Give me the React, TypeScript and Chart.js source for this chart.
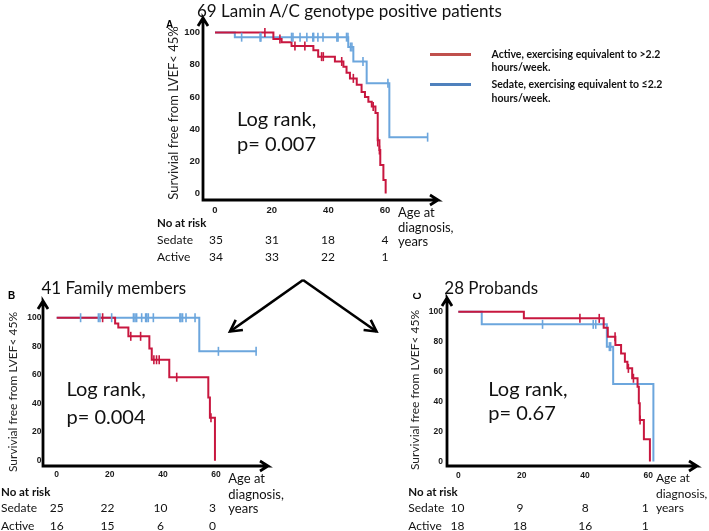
import React, { useEffect, useRef } from 'react';
import { Chart, registerables } from 'chart.js';
Chart.register(...registerables);

// ---------- shared ticks ----------
const xTickValues = [0, 20, 40, 60];
const yTickValues = [0, 20, 40, 60, 80, 100];

// ---------- Panel A: 69 Lamin A/C genotype positive patients ----------
const aActiveTime = [0, 20.6, 23.5, 27, 34.7, 36.4, 42.3, 45.3, 46.4, 47.6, 50, 51.7, 52.9, 54.1, 55.3, 56.6, 57.4, 58.0, 58.3, 59.4, 60.2];
const aActiveSurv = [100, 96, 94, 91.6, 89, 85, 82, 78.7, 75, 71.5, 67.5, 63, 60, 57, 54, 50, 33, 27, 17.7, 8.4, 0];
const aActiveCensT = [17.6, 22.9, 28.2, 31.7, 37.6, 38.2, 44.7, 48.8, 55.8, 57.4, 58.0];
const aActiveCensS = [100, 96, 91.6, 91.6, 85, 85, 82, 71.5, 54, 32, 27];
const aSedateTime = [0, 7, 47, 48.8, 53.5, 61.5, 75];
const aSedateSurv = [100, 97.1, 91, 82, 68.4, 35, 35];
const aSedateCensT = [9.4, 15.9, 16.2, 27, 27.5, 30, 32.4, 34.5, 34.8, 36.3, 38.1, 43, 43.4, 46.4, 46.9, 47.8, 48.3, 52.2, 61, 75];
const aSedateCensS = [97.1, 97.1, 97.1, 97.1, 97.1, 97.1, 97.1, 97.1, 97.1, 97.1, 97.1, 97.1, 97.1, 97.1, 97.1, 91, 91, 82, 68.4, 35];
const aRiskSedate = ['35', '31', '18', '4'];
const aRiskActive = ['34', '33', '22', '1'];

// ---------- Panel B: 41 Family members ----------
const bActiveTime = [0, 22, 23.2, 27, 34.9, 35.8, 42.4, 57.1, 57.7, 59.6];
const bActiveSurv = [100, 96, 93.2, 87, 78.4, 70.6, 58.4, 44.2, 30.1, 0];
const bActiveCensT = [17.3, 27.9, 31.6, 36.6, 37.6, 38.6, 45.2, 58.1];
const bActiveCensS = [100, 87, 87, 70.6, 70.6, 70.6, 58.4, 30.1];
const bSedateTime = [0, 53.7, 75.3];
const bSedateSurv = [100, 76.5, 76.5];
const bSedateCensT = [9.0, 15.7, 16.3, 20.7, 28.9, 29.5, 30.1, 32, 33.5, 33.9, 34.5, 36.4, 46.4, 46.8, 47.4, 48.7, 52.1, 60.9, 75.1];
const bSedateCensS = [100, 100, 100, 100, 100, 100, 100, 100, 100, 100, 100, 100, 100, 100, 100, 100, 100, 76.5, 76.5];
const bRiskSedate = ['25', '22', '10', '3'];
const bRiskActive = ['16', '15', '6', '0'];

// ---------- Panel C: 28 Probands ----------
const cActiveTime = [0, 20.7, 45.9, 47.2, 49.6, 51.4, 52.6, 53.4, 54.9, 56.6, 57.0, 57.3, 58.6, 60.5];
const cActiveSurv = [100, 95.6, 89.4, 83.3, 77.8, 72.2, 66.7, 62.2, 55.6, 50, 38.9, 27.8, 14.9, 0];
const cActiveCensT = [38.4, 44.5, 49.5, 53.7, 55.3, 57.4];
const cActiveCensS = [95.6, 95.6, 83.3, 62.2, 55.6, 27.8];
const cSedateTime = [0, 7.4, 46.9, 48.9, 61.6];
const cSedateSurv = [100, 91.6, 76.7, 51.7, 0];
const cSedateCensT = [26.6, 42.6, 43.4, 47.7, 48.1];
const cSedateCensS = [91.6, 91.6, 91.6, 76.7, 76.7];
const cRiskSedate = ['10', '9', '8', '1'];
const cRiskActive = ['18', '18', '16', '1'];

const RED = '#C8173F';
const BLUE = '#6CA6DD';
const LEGEND_RED = '#C0504D';
const LEGEND_BLUE = '#4F81BD';

const YW = 40, PT = 10, PR = 10, XH = 22;

type Pt = { x: number; y: number };
const toPts = (t: number[], s: number[]): Pt[] => t.map((x, i) => ({ x, y: s[i] }));

interface PanelCfg {
  area: { left: number; top: number; right: number; bottom: number };
  xr: [number, number];
  yr: [number, number];
  tickSize: number;
  yPad: number;
  xPad: number;
  active: { t: number[]; s: number[]; ct: number[]; cs: number[] };
  sedate: { t: number[]; s: number[]; ct: number[]; cs: number[] };
}

const PANELS: PanelCfg[] = [
  {
    area: { left: 203, top: 18, right: 438, bottom: 200 },
    xr: [-4.23, 78.66], yr: [-4.04, 109.0], tickSize: 9.5, yPad: 3, xPad: 5,
    active: { t: aActiveTime, s: aActiveSurv, ct: aActiveCensT, cs: aActiveCensS },
    sedate: { t: aSedateTime, s: aSedateSurv, ct: aSedateCensT, cs: aSedateCensS },
  },
  {
    area: { left: 43, top: 301, right: 268, bottom: 466 },
    xr: [-5.16, 79.58], yr: [-3.7, 111.7], tickSize: 8.5, yPad: 1.5, xPad: 3.5,
    active: { t: bActiveTime, s: bActiveSurv, ct: bActiveCensT, cs: bActiveCensS },
    sedate: { t: bSedateTime, s: bSedateSurv, ct: bSedateCensT, cs: bSedateCensS },
  },
  {
    area: { left: 447, top: 298, right: 697, bottom: 466 },
    xr: [-3.57, 75.37], yr: [-3.0, 109.2], tickSize: 8.5, yPad: 4, xPad: 4.5,
    active: { t: cActiveTime, s: cActiveSurv, ct: cActiveCensT, cs: cActiveCensS },
    sedate: { t: cSedateTime, s: cSedateSurv, ct: cSedateCensT, cs: cSedateCensS },
  },
];

// axis path (with chevron arrowheads), expressed in data units of the panel's scales
function axisPath(cfg: PanelCfg): Pt[] {
  const [x0, x1] = cfg.xr;
  const [y0, y1] = cfg.yr;
  const { left, right, top, bottom } = cfg.area;
  const dx = (x1 - x0) / (right - left);
  const dy = (y1 - y0) / (bottom - top);
  const hw = 5, hl = 8;
  return [
    { x: x0 - hw * dx, y: y1 - hl * dy },
    { x: x0, y: y1 },
    { x: x0 + hw * dx, y: y1 - hl * dy },
    { x: x0, y: y1 },
    { x: x0, y: y0 },
    { x: x1, y: y0 },
    { x: x1 - hl * dx, y: y0 + hw * dy },
    { x: x1, y: y0 },
    { x: x1 - hl * dx, y: y0 - hw * dy },
  ];
}

function KMPanel({ cfg }: { cfg: PanelCfg }) {
  const ref = useRef<HTMLCanvasElement>(null);
  const { area } = cfg;
  const w = Math.round(YW + (area.right - area.left) + PR);
  const h = Math.round(PT + (area.bottom - area.top) + XH);
  useEffect(() => {
    if (!ref.current) return;
    const tickFont = { family: '"Liberation Sans", Arial, sans-serif', size: cfg.tickSize, weight: 'bold' as const };
    const censor = (color: string) => ({
      showLine: false,
      pointStyle: 'line' as const,
      pointRotation: 90,
      pointRadius: 4.5,
      pointBorderWidth: 1.6,
      pointBorderColor: color,
      pointBackgroundColor: color,
      borderColor: color,
    });
    const [x0, x1] = cfg.xr;
    const [y0, y1] = cfg.yr;
    const chart = new Chart(ref.current, {
      type: 'line',
      data: {
        datasets: [
          {
            data: axisPath(cfg),
            borderColor: '#000', borderWidth: 2.8, pointRadius: 0, clip: false, order: 5,
            borderJoinStyle: 'miter', borderCapStyle: 'butt', tension: 0,
          } as any,
          { data: toPts(cfg.active.ct, cfg.active.cs), ...censor(RED), order: 0 } as any,
          { data: toPts(cfg.sedate.ct, cfg.sedate.cs), ...censor(BLUE), order: 1 } as any,
          { data: toPts(cfg.active.t, cfg.active.s), borderColor: RED, borderWidth: 2, stepped: 'before', pointRadius: 0, order: 2 },
          { data: toPts(cfg.sedate.t, cfg.sedate.s), borderColor: BLUE, borderWidth: 2, stepped: 'before', pointRadius: 0, order: 3 },
        ],
      },
      options: {
        animation: false,
        responsive: false,
        maintainAspectRatio: false,
        layout: { padding: { top: PT, right: PR, left: 0, bottom: 0 } },
        plugins: { legend: { display: false }, tooltip: { enabled: false } },
        scales: {
          x: {
            type: 'linear', min: x0, max: x1,
            grid: { display: false, drawTicks: false },
            border: { display: false },
            afterBuildTicks: (s: any) => { s.ticks = xTickValues.map((v) => ({ value: v })); },
            afterFit: (s: any) => { s.height = XH; },
            ticks: { font: tickFont, color: '#1a1a1a', padding: cfg.xPad, maxRotation: 0, autoSkip: false, callback: (v: any) => String(v) },
          },
          y: {
            type: 'linear', min: y0, max: y1,
            grid: { display: false, drawTicks: false },
            border: { display: false },
            afterBuildTicks: (s: any) => { s.ticks = yTickValues.map((v) => ({ value: v })); },
            afterFit: (s: any) => { s.width = YW; },
            ticks: { font: tickFont, color: '#1a1a1a', padding: cfg.yPad, autoSkip: false, callback: (v: any) => String(v) },
          },
        },
      },
    });
    return () => chart.destroy();
  }, [cfg]);
  return (
    <canvas
      ref={ref}
      width={w}
      height={h}
      style={{ position: 'absolute', left: area.left - YW, top: area.top - PT, width: w, height: h }}
    />
  );
}

const FONT = 'Lato, "Open Sans", sans-serif';

function T({ x, y, size, bold, center, children, color }: any) {
  return (
    <div
      style={{
        position: 'absolute', left: x, top: y, fontFamily: FONT, fontSize: size, fontWeight: bold ? 700 : 400,
        lineHeight: 1, whiteSpace: 'nowrap', color: color || '#111',
        transform: `translate(${center ? '-50%' : '0'}, -50%)`,
      }}
    >
      {children}
    </div>
  );
}

function YTitle({ x, y, size }: any) {
  return (
    <div
      style={{
        position: 'absolute', left: x, top: y, fontFamily: FONT, fontSize: size, lineHeight: 1, whiteSpace: 'nowrap',
        color: '#222', transform: 'translate(-50%, -50%) rotate(-90deg)',
      }}
    >
      Survivial free from LVEF&lt; 45%
    </div>
  );
}

function Risk({ x, yN, yS, yA, cols, sed, act }: any) {
  return (
    <>
      <T x={x} y={yN} size={11.5} bold>No at risk</T>
      <T x={x} y={yS} size={12}>Sedate</T>
      <T x={x} y={yA} size={12}>Active</T>
      {cols.map((cx: number, i: number) => (
        <React.Fragment key={i}>
          <T x={cx} y={yS} size={12} center>{sed[i]}</T>
          <T x={cx} y={yA} size={12} center>{act[i]}</T>
        </React.Fragment>
      ))}
    </>
  );
}

function AgeLabel({ x, y0, size }: any) {
  return (
    <>
      <T x={x} y={y0} size={size}>Age at</T>
      <T x={x} y={y0 + 15.5} size={size}>diagnosis,</T>
      <T x={x} y={y0 + 29.5} size={size}>years</T>
    </>
  );
}

function Arrow({ x1, y1, x2, y2 }: any) {
  const ang = Math.atan2(y2 - y1, x2 - x1);
  const L = 13, spread = 0.5;
  const p1 = [x2 - L * Math.cos(ang - spread), y2 - L * Math.sin(ang - spread)];
  const p2 = [x2 - L * Math.cos(ang + spread), y2 - L * Math.sin(ang + spread)];
  return (
    <>
      <line x1={x1} y1={y1} x2={x2} y2={y2} stroke="#000" strokeWidth={2.6} />
      <polyline points={`${p1[0]},${p1[1]} ${x2},${y2} ${p2[0]},${p2[1]}`} fill="none" stroke="#000" strokeWidth={2.6} />
    </>
  );
}

export default function App() {
  return (
    <div style={{ position: 'absolute', left: 0, top: 0, width: 709, height: 531, background: '#fff', overflow: 'hidden' }}>
      {PANELS.map((p, i) => <KMPanel key={i} cfg={p} />)}

      {/* Panel A texts */}
      <T x={197} y={10} size={17}>69 Lamin A/C genotype positive patients</T>
      <div style={{ position: 'absolute', left: 166, top: 20, fontFamily: '"Liberation Sans", Arial', fontWeight: 700, fontSize: 10, lineHeight: 1 }}>A</div>
      <YTitle x={173} y={113} size={13} />
      <T x={237} y={118} size={20}>Log rank,</T>
      <T x={237} y={143} size={20}>p= 0.007</T>
      <Risk x={157} yN={222.7} yS={240} yA={257} cols={[216, 272, 328, 385]} sed={aRiskSedate} act={aRiskActive} />
      <AgeLabel x={398} y0={211.7} size={13} />

      {/* Legend */}
      <div style={{ position: 'absolute', left: 430, top: 52.5, width: 41, height: 3, background: LEGEND_RED }} />
      <T x={491.5} y={54} size={10.5} bold>Active, exercising equivalent to &gt;2.2</T>
      <T x={491.5} y={67} size={10.5} bold>hours/week.</T>
      <div style={{ position: 'absolute', left: 430, top: 82.5, width: 41, height: 3, background: LEGEND_BLUE }} />
      <T x={491.5} y={84} size={10.5} bold>Sedate, exercising equivalent to ≤2.2</T>
      <T x={491.5} y={97.5} size={10.5} bold>hours/week.</T>

      {/* Panel B texts */}
      <T x={41.5} y={286.7} size={17}>41 Family members</T>
      <div style={{ position: 'absolute', left: 8, top: 291, fontFamily: '"Liberation Sans", Arial', fontWeight: 700, fontSize: 10, lineHeight: 1 }}>B</div>
      <YTitle x={12.5} y={392} size={12} />
      <T x={66.5} y={388} size={20}>Log rank,</T>
      <T x={66.5} y={415.5} size={20}>p= 0.004</T>
      <Risk x={1} yN={491.7} yS={508.3} yA={526} cols={[56.7, 107.5, 160.5, 212.5]} sed={bRiskSedate} act={bRiskActive} />
      <AgeLabel x={228.3} y0={478.3} size={13} />

      {/* Panel C texts */}
      <T x={444.3} y={286.7} size={17}>28 Probands</T>
      <div style={{ position: 'absolute', left: 418, top: 296, fontFamily: '"Liberation Sans", Arial', fontWeight: 700, fontSize: 10, lineHeight: 1, transform: 'translate(-50%, -50%) rotate(-90deg)' }}>C</div>
      <YTitle x={415} y={390} size={12} />
      <T x={488.3} y={388.3} size={20}>Log rank,</T>
      <T x={488.3} y={411.7} size={20}>p= 0.67</T>
      <Risk x={408.3} yN={491.7} yS={508.3} yA={526} cols={[457.5, 520, 585.3, 645.3]} sed={cRiskSedate} act={cRiskActive} />
      <AgeLabel x={656} y0={478.3} size={12} />

      {/* V arrows */}
      <svg width={709} height={531} style={{ position: 'absolute', left: 0, top: 0, pointerEvents: 'none' }}>
        <Arrow x1={303} y1={280} x2={230} y2={331.5} />
        <Arrow x1={303} y1={280} x2={376.5} y2={331.5} />
      </svg>
    </div>
  );
}
